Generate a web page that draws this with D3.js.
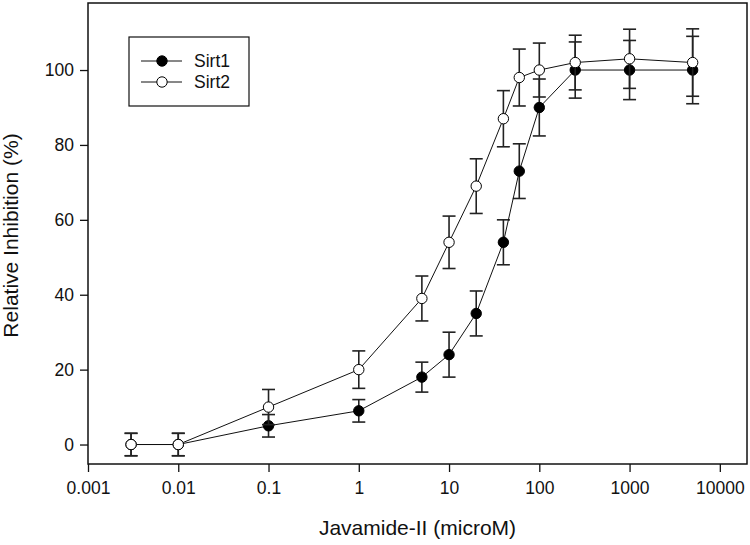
<!DOCTYPE html>
<html>
<head>
<meta charset="utf-8">
<script src="https://cdn.jsdelivr.net/npm/d3@7"></script>
<style>
  html, body { margin: 0; padding: 0; background: #fff; }
  svg { display: block; }
  text { font-family: Arial, "Liberation Sans", sans-serif; fill: #111; }
</style>
</head>
<body>
<svg id="chart" width="750" height="545"></svg>
<script>
// ---- data ----
const concentrations = [0.003, 0.01, 0.1, 1, 5, 10, 20, 40, 60, 100, 250, 1000, 5000];
const sirt1 = [0, 0, 5, 9, 18, 24, 35, 54, 73, 90, 100, 100, 100];
const sirt1Err = [3, 3, 3, 3, 4, 6, 6, 6, 7.3, 7.6, 7.5, 7.9, 9];
const sirt2 = [0, 0, 10, 20, 39, 54, 69, 87, 98, 100, 102, 103, 102];
const sirt2Err = [3, 3, 4.7, 5, 6, 7, 7.3, 7.5, 7.6, 7.2, 7.3, 7.9, 9];
const xTicks = [0.001, 0.01, 0.1, 1, 10, 100, 1000, 10000];
const xTickLabels = ["0.001", "0.01", "0.1", "1", "10", "100", "1000", "10000"];
const yTicks = [0, 20, 40, 60, 80, 100];
const seriesNames = ["Sirt1", "Sirt2"];
const xTitle = "Javamide-II (microM)";
const yTitle = "Relative Inhibition (%)";

// ---- layout ----
const pLeft = 88, pRight = 747, pTop = 3, pBottom = 464;
const svg = d3.select("#chart");

const x = d3.scaleLog().domain([0.001, 20000]).range([pLeft, pRight]);
const y = d3.scaleLinear().domain([-5.2, 117.9]).range([pBottom, pTop]);

// frame
svg.append("rect")
  .attr("x", pLeft).attr("y", pTop)
  .attr("width", pRight - pLeft).attr("height", pBottom - pTop)
  .attr("fill", "none").attr("stroke", "#111").attr("stroke-width", 1.5);

// axes
const xAxis = d3.axisBottom(x).tickValues(xTicks)
  .tickFormat((d, i) => xTickLabels[i]).tickSize(8).tickPadding(10);
const gx = svg.append("g").attr("transform", `translate(0,${pBottom})`).call(xAxis);
gx.select(".domain").remove();
gx.selectAll("line").attr("stroke", "#111").attr("stroke-width", 1.3);
gx.selectAll("text").attr("font-size", 17.5).attr("fill", "#111");

const yAxis = d3.axisLeft(y).tickValues(yTicks).tickSize(8).tickPadding(6);
const gy = svg.append("g").attr("transform", `translate(${pLeft},0)`).call(yAxis);
gy.select(".domain").remove();
gy.selectAll("line").attr("stroke", "#111").attr("stroke-width", 1.3);
gy.selectAll("text").attr("font-size", 17.5).attr("fill", "#111");

// titles
svg.append("text")
  .attr("x", (pLeft + pRight) / 2).attr("y", 535)
  .attr("text-anchor", "middle").attr("font-size", 21)
  .text(xTitle);
svg.append("text")
  .attr("transform", `translate(18,${(pTop + pBottom) / 2 + 2}) rotate(-90)`)
  .attr("text-anchor", "middle").attr("font-size", 21)
  .text(yTitle);

// series
const series = [
  { name: seriesNames[0], vals: sirt1, errs: sirt1Err, fill: "#000" },
  { name: seriesNames[1], vals: sirt2, errs: sirt2Err, fill: "#fff" }
];

const line = d3.line().x(d => x(d[0])).y(d => y(d[1]));

series.forEach(s => {
  const pts = concentrations.map((c, i) => [c, s.vals[i], s.errs[i]]);
  const g = svg.append("g");
  const cap = 6.5;
  pts.forEach(p => {
    const cx = x(p[0]);
    const y1 = y(p[1] + p[2]), y2 = y(p[1] - p[2]);
    g.append("line").attr("x1", cx).attr("x2", cx).attr("y1", y1).attr("y2", y2)
      .attr("stroke", "#222").attr("stroke-width", 1.6);
    [y1, y2].forEach(yy => g.append("line")
      .attr("x1", cx - cap).attr("x2", cx + cap).attr("y1", yy).attr("y2", yy)
      .attr("stroke", "#222").attr("stroke-width", 1.6));
  });
  g.append("path").datum(pts).attr("d", line)
    .attr("fill", "none").attr("stroke", "#111").attr("stroke-width", 1);
  g.selectAll("circle").data(pts).enter().append("circle")
    .attr("cx", d => x(d[0])).attr("cy", d => y(d[1])).attr("r", 5.2)
    .attr("fill", s.fill).attr("stroke", "#000").attr("stroke-width", 1);
});

// legend
const lg = svg.append("g");
lg.append("rect").attr("x", 129).attr("y", 37).attr("width", 120).attr("height", 69)
  .attr("fill", "#fff").attr("stroke", "#111").attr("stroke-width", 1.2);
series.forEach((s, i) => {
  const yy = 61 + i * 21;
  lg.append("line").attr("x1", 141).attr("x2", 182).attr("y1", yy).attr("y2", yy)
    .attr("stroke", "#111").attr("stroke-width", 1);
  lg.append("circle").attr("cx", 162).attr("cy", yy).attr("r", 5.2)
    .attr("fill", s.fill).attr("stroke", "#000").attr("stroke-width", 1);
  lg.append("text").attr("x", 194).attr("y", yy + 6).attr("font-size", 17.5).text(s.name);
});
</script>
</body>
</html>
